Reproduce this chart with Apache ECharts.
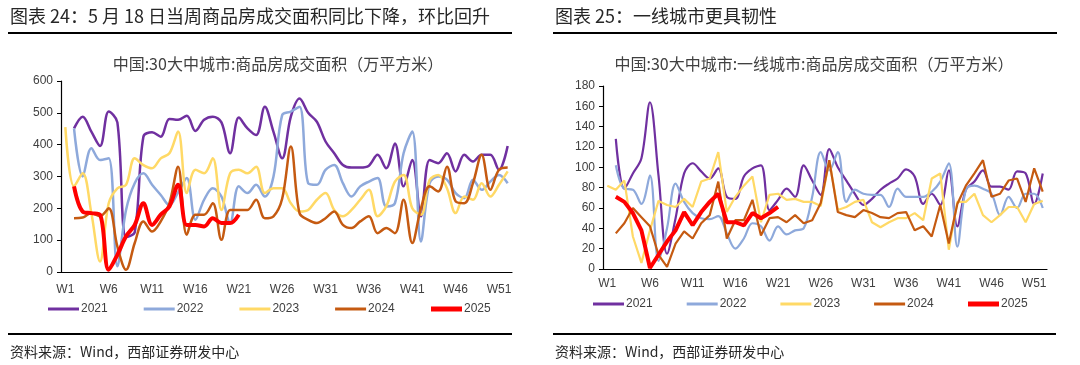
<!DOCTYPE html>
<html><head><meta charset="utf-8">
<script src="https://cdn.jsdelivr.net/npm/echarts@6/dist/echarts.min.js"></script>
<style>html,body{margin:0;padding:0;background:#fff}#c{width:1080px;height:365px}</style>
</head><body><div id="c"></div>
<script>
const weeks = [];
for (let i = 1; i <= 52; i++) weeks.push('W' + i);
const seriesNames = ['2021', '2022', '2023', '2024', '2025'];

// Left chart: 30 cities, commodity housing transaction area (10k m2)
const left2021 = [null,451,488,441,396,504,470,110,125,425,439,425,481,478,491,443,478,488,470,373,485,451,430,519,440,357,488,545,500,472,410,373,336,328,328,334,368,326,404,269,352,175,352,342,373,316,368,347,368,368,321,396];
const left2022 = [null,451,300,389,352,357,18,195,279,310,274,242,210,250,295,164,227,263,237,154,269,248,274,237,300,493,504,519,279,274,321,336,279,237,269,284,295,206,216,373,441,96,279,300,290,248,232,290,258,284,305,279];
const left2023 = [455,269,310,185,33,216,263,274,357,336,326,357,373,441,248,321,310,357,195,310,321,310,331,248,263,263,216,190,195,227,248,195,175,195,227,258,175,206,284,305,200,180,289,305,263,185,237,227,279,237,274,316];
const left2024 = [null,169,171,185,175,200,80,7,91,159,127,159,216,331,117,180,180,216,101,195,195,195,227,169,175,230,394,185,164,154,169,190,148,138,159,175,122,138,122,227,91,200,269,253,331,222,216,279,368,258,321,328];
const left2025 = [null,269,190,185,180,7,54,112,148,216,148,180,206,274,148,148,143,169,154,154,180];

// Right chart: first-tier cities
const right2021 = [null,128,79,94,109,164,92,15,50,94,104,96,89,99,71,69,91,99,102,58,68,79,71,102,87,73,118,100,87,74,63,69,78,84,89,98,91,64,74,63,97,42,78,86,97,81,81,78,96,94,64,94];
const right2022 = [null,102,79,78,64,92,8,40,84,66,55,50,49,52,35,20,30,45,42,28,42,34,38,40,71,115,97,115,66,78,74,73,73,61,79,71,71,71,76,86,104,22,78,82,79,74,53,71,60,74,74,60];
const right2023 = [82,78,87,32,6,38,67,63,61,69,61,86,89,115,56,71,82,91,46,73,74,68,69,66,66,62,107,58,61,66,68,46,41,46,50,50,55,48,89,94,19,66,66,74,53,46,53,61,61,46,64,67];
const right2024 = [null,35,45,60,51,42,14,2,25,37,30,45,53,86,30,48,48,68,33,50,51,46,53,45,48,65,107,56,53,51,58,55,51,50,55,56,38,42,32,63,25,64,82,94,107,71,74,87,89,66,99,76];
const right2025 = [null,71,66,55,38,1,14,27,38,56,43,56,66,74,46,46,43,55,50,55,61];

const colors = ['#7030A0', '#8EA9DB', '#FFD966', '#C55A11', '#FF0000'];
const FONT = '"Liberation Sans", "Noto Sans CJK SC", sans-serif';
const CJK = '"Noto Sans CJK SC", "Liberation Sans", sans-serif';

function xAx(gi, margin) {
  return {
    type: 'category', gridIndex: gi, data: weeks, boundaryGap: true,
    axisLine: { lineStyle: { color: '#000', width: 1.2 } },
    axisTick: { inside: true, length: 4, interval: 0, lineStyle: { color: '#000' } },
    axisLabel: { interval: 4, color: '#404040', fontSize: 12, fontFamily: FONT, margin: margin },
    splitLine: { show: false }
  };
}
function yAx(gi, max, step) {
  return {
    type: 'value', gridIndex: gi, min: 0, max: max, interval: step,
    axisLine: { show: true, lineStyle: { color: '#000', width: 1.2 } },
    axisTick: { show: true, length: 4, lineStyle: { color: '#000' } },
    axisLabel: { color: '#404040', fontSize: 12, fontFamily: FONT, margin: 8 },
    splitLine: { show: false }
  };
}
function mk(name, data, idx, gi, smooth, width) {
  return {
    name: name, type: 'line', xAxisIndex: gi, yAxisIndex: gi, data: data,
    symbol: 'none', smooth: smooth, z: idx === 4 ? 10 : 2 + idx,
    lineStyle: { color: colors[idx], width: width },
    itemStyle: { color: colors[idx] }
  };
}
const leftData = [left2021, left2022, left2023, left2024, left2025];
const rightData = [right2021, right2022, right2023, right2024, right2025];
const rightSmooth = [0.35, 0.35, false, false, false];
const series = [];
leftData.forEach((d, i) => series.push(mk(seriesNames[i], d, i, 0, 0.35, i === 4 ? 4 : 2.5)));
rightData.forEach((d, i) => series.push(mk(seriesNames[i], d, i, 1, rightSmooth[i], i === 4 ? 4 : 2.2)));

function legend(names, left, top, gap, h) {
  return {
    data: names, left: left, top: top, itemWidth: 31, itemHeight: h, itemGap: gap,
    icon: 'rect', selectedMode: false, padding: 0,
    textStyle: { color: '#404040', fontSize: 12, fontFamily: FONT, padding: [0, 0, 0, -3] }
  };
}
function text(x, y, str, size, align, color) {
  return { type: 'text', x: x, y: y, style: { text: str, fill: color || '#262626', font: size + 'px ' + CJK, textAlign: align || 'left', textVerticalAlign: 'middle' } };
}
function rule(x1, x2, y) {
  return { type: 'line', shape: { x1: x1, y1: y, x2: x2, y2: y }, style: { stroke: '#000', lineWidth: 2 } };
}

const first4 = seriesNames.slice(0, 4);
const last1 = seriesNames.slice(4);
const chart = echarts.init(document.getElementById('c'), null, { renderer: 'canvas' });
chart.setOption({
  animation: false,
  backgroundColor: '#fff',
  grid: [
    { left: 61, top: 81, width: 451, height: 191 },
    { left: 603, top: 86, width: 444, height: 183 }
  ],
  xAxis: [xAx(0, 12), xAx(1, 9)],
  yAxis: [yAx(0, 600, 100), yAx(1, 180, 20)],
  legend: [
    legend(first4, 48, 303, 36, 3),
    legend(last1, 431, 303, 36, 5),
    legend(first4, 593, 298, 34, 3),
    legend(last1, 968, 298, 34, 5)
  ],
  series: series,
  graphic: [
    text(10, 16, '图表 24：5 月 18 日当周商品房成交面积同比下降，环比回升', 18),
    text(555, 16, '图表 25：一线城市更具韧性', 18),
    rule(8, 512, 33), rule(553, 1057, 33),
    text(278, 64, '中国:30大中城市:商品房成交面积（万平方米）', 16, 'center', '#404040'),
    text(814, 64, '中国:30大中城市:一线城市:商品房成交面积（万平方米）', 16, 'center', '#404040'),
    rule(8, 512, 334), rule(553, 1056, 334),
    text(10, 352, '资料来源：Wind，西部证券研发中心', 14),
    text(555, 352, '资料来源：Wind，西部证券研发中心', 14)
  ]
});
</script></body></html>
